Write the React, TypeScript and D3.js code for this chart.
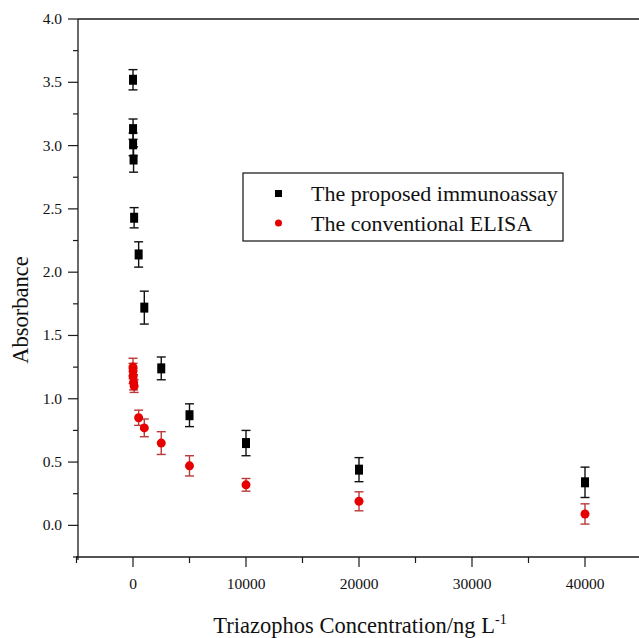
import React, { useEffect, useRef } from 'react';
import * as d3 from 'd3';

// Triazophos concentration (ng/L) for each calibration point
const concentrations = [0, 5, 10, 50, 100, 500, 1000, 2500, 5000, 10000, 20000, 40000];

// The proposed immunoassay
const proposedMean = [3.52, 3.13, 3.01, 2.89, 2.43, 2.14, 1.72, 1.24, 0.87, 0.65, 0.44, 0.34];
const proposedErr = [0.08, 0.08, 0.09, 0.1, 0.08, 0.1, 0.13, 0.09, 0.09, 0.1, 0.095, 0.12];

// The conventional ELISA
const conventionalMean = [1.25, 1.22, 1.18, 1.13, 1.1, 0.85, 0.77, 0.65, 0.47, 0.32, 0.19, 0.09];
const conventionalErr = [0.07, 0.06, 0.06, 0.06, 0.05, 0.06, 0.07, 0.09, 0.08, 0.05, 0.075, 0.08];

const xTicks = [0, 10000, 20000, 30000, 40000];
const yTicks = [0, 0.5, 1.0, 1.5, 2.0, 2.5, 3.0, 3.5, 4.0];

const legendLabels = ['The proposed immunoassay', 'The conventional ELISA'];

const W = 639;
const H = 638;
const FONT = '"Liberation Serif", "Times New Roman", serif';

const Chart = () => {
  const ref = useRef<SVGSVGElement | null>(null);

  useEffect(() => {
    if (!ref.current) return;
    const svg = d3.select(ref.current);
    svg.selectAll('*').remove();

    const left = 78;
    const top = 19;
    const bottom = 557;

    const x = d3.scaleLinear().domain([-5000, 45000]).range([76.5, 641.5]);
    const y = d3.scaleLinear().domain([-0.25, 4.0]).range([bottom, top]);

    const axisColor = '#1a1a1a';

    // frame: top line, left axis, bottom axis
    svg.append('line')
      .attr('x1', left).attr('x2', W).attr('y1', top).attr('y2', top)
      .attr('stroke', axisColor).attr('stroke-width', 1.3);
    svg.append('line')
      .attr('x1', left).attr('x2', left).attr('y1', top).attr('y2', bottom + 3)
      .attr('stroke', axisColor).attr('stroke-width', 1.3);
    svg.append('line')
      .attr('x1', left - 2).attr('x2', W).attr('y1', bottom).attr('y2', bottom)
      .attr('stroke', axisColor).attr('stroke-width', 1.3);

    // y ticks (major + minor)
    const yMinor = d3.range(-0.25, 4.0, 0.25).filter(v => Math.abs(v * 2 - Math.round(v * 2)) > 0.01);
    svg.append('g').selectAll('line').data(yTicks).join('line')
      .attr('x1', left - 10).attr('x2', left)
      .attr('y1', d => y(d)).attr('y2', d => y(d))
      .attr('stroke', axisColor).attr('stroke-width', 1.2);
    svg.append('g').selectAll('line').data(yMinor).join('line')
      .attr('x1', left - 5).attr('x2', left)
      .attr('y1', d => y(d)).attr('y2', d => y(d))
      .attr('stroke', axisColor).attr('stroke-width', 1.2);
    svg.append('g').selectAll('text').data(yTicks).join('text')
      .attr('x', 62)
      .attr('y', d => y(d) + 5)
      .attr('text-anchor', 'end')
      .attr('font-family', FONT)
      .attr('font-size', 15.5)
      .attr('fill', '#111')
      .text(d => d.toFixed(1));

    // x ticks (major + minor)
    const xMinor = [-5000, 5000, 15000, 25000, 35000, 45000];
    svg.append('g').selectAll('line').data(xTicks).join('line')
      .attr('x1', d => x(d)).attr('x2', d => x(d))
      .attr('y1', bottom).attr('y2', bottom + 10)
      .attr('stroke', axisColor).attr('stroke-width', 1.2);
    svg.append('g').selectAll('line').data(xMinor).join('line')
      .attr('x1', d => x(d)).attr('x2', d => x(d))
      .attr('y1', bottom).attr('y2', bottom + 6)
      .attr('stroke', axisColor).attr('stroke-width', 1.2);
    svg.append('g').selectAll('text').data(xTicks).join('text')
      .attr('x', d => x(d))
      .attr('y', 589)
      .attr('text-anchor', 'middle')
      .attr('font-family', FONT)
      .attr('font-size', 15.5)
      .attr('fill', '#111')
      .text(d => String(d));

    // axis titles
    const xt = svg.append('text')
      .attr('x', 360)
      .attr('y', 633)
      .attr('text-anchor', 'middle')
      .attr('font-family', FONT)
      .attr('font-size', 22.5)
      .attr('fill', '#111');
    xt.append('tspan').text('Triazophos Concentration/ng L');
    xt.append('tspan').attr('dy', -9).attr('font-size', 14).text('-1');

    svg.append('text')
      .attr('transform', `translate(28, 310) rotate(-90)`)
      .attr('text-anchor', 'middle')
      .attr('font-family', FONT)
      .attr('font-size', 22.5)
      .attr('fill', '#111')
      .text('Absorbance');

    // error bars
    const drawErr = (means: number[], errs: number[], color: string) => {
      const g = svg.append('g').attr('stroke', color).attr('stroke-width', 1.4);
      concentrations.forEach((c, i) => {
        const cx = x(c);
        const y0 = y(means[i] - errs[i]);
        const y1 = y(means[i] + errs[i]);
        g.append('line').attr('x1', cx).attr('x2', cx).attr('y1', y0).attr('y2', y1);
        g.append('line').attr('x1', cx - 4.5).attr('x2', cx + 4.5).attr('y1', y0).attr('y2', y0);
        g.append('line').attr('x1', cx - 4.5).attr('x2', cx + 4.5).attr('y1', y1).attr('y2', y1);
      });
    };
    drawErr(proposedMean, proposedErr, '#111');
    drawErr(conventionalMean, conventionalErr, '#b83a3a');

    // markers
    svg.append('g').selectAll('rect').data(proposedMean).join('rect')
      .attr('x', (d, i) => x(concentrations[i]) - 4)
      .attr('y', d => y(d) - 5)
      .attr('width', 8)
      .attr('height', 10)
      .attr('fill', '#000');
    svg.append('g').selectAll('circle').data(conventionalMean).join('circle')
      .attr('cx', (d, i) => x(concentrations[i]))
      .attr('cy', d => y(d))
      .attr('r', 4.5)
      .attr('fill', '#e60000');

    // legend
    const lg = svg.append('g');
    lg.append('rect')
      .attr('x', 243).attr('y', 173)
      .attr('width', 320).attr('height', 68)
      .attr('fill', '#fff')
      .attr('stroke', '#222')
      .attr('stroke-width', 1.3);
    lg.append('rect')
      .attr('x', 275).attr('y', 190)
      .attr('width', 7).attr('height', 7)
      .attr('fill', '#000');
    lg.append('circle')
      .attr('cx', 278.5).attr('cy', 223)
      .attr('r', 3.5)
      .attr('fill', '#e60000');
    lg.selectAll('text').data(legendLabels).join('text')
      .attr('x', 311)
      .attr('y', (d, i) => 201 + i * 30)
      .attr('font-family', FONT)
      .attr('font-size', 22)
      .attr('fill', '#111')
      .text(d => d);
  }, []);

  return (
    <svg
      ref={ref}
      width={W}
      height={H}
      style={{ position: 'absolute', left: 0, top: 0, background: '#fff' }}
    />
  );
};

export default function App() {
  return <Chart />;
}
